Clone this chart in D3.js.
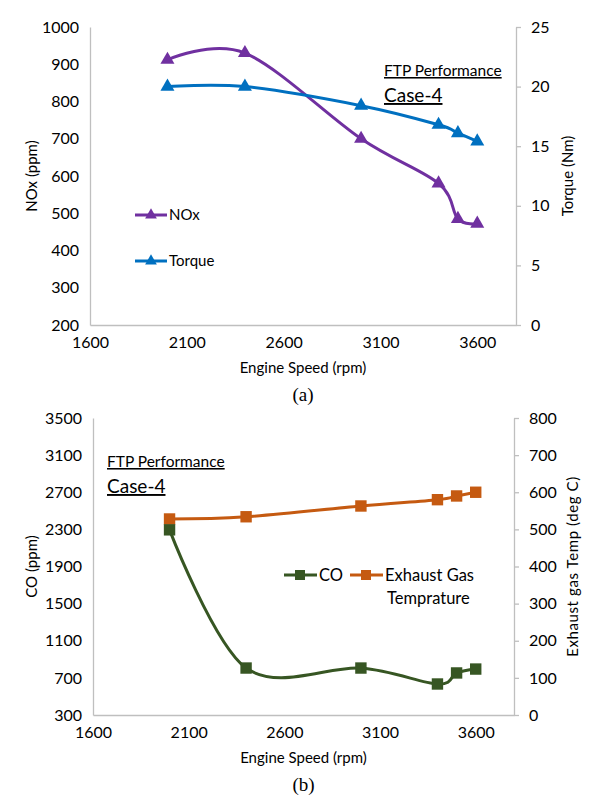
<!DOCTYPE html>
<html><head><meta charset="utf-8">
<script src="https://cdn.jsdelivr.net/npm/d3@7"></script>
<style>
body{margin:0;background:#fff;}
text{font-family:Lato,"Open Sans",sans-serif;fill:#000;}
</style></head>
<body><svg id="c" width="589" height="797"></svg>
<script>
const speeds = [2000, 2400, 3000, 3400, 3500, 3600];
const noxValues = [912, 930, 700, 580, 485, 472];
const torqueValues = [20.0, 20.0, 18.4, 16.8, 16.1, 15.4];
const coValues = [2295, 806, 806, 634, 753, 795];
const exhaustTempValues = [528, 534, 563, 580, 590, 600];
const xTicks = [1600, 2100, 2600, 3100, 3600];
const noxTicks = [200, 300, 400, 500, 600, 700, 800, 900, 1000];
const torqueTicks = [0, 5, 10, 15, 20, 25];
const coTicks = [300, 700, 1100, 1500, 1900, 2300, 2700, 3100, 3500];
const tempTicks = [0, 100, 200, 300, 400, 500, 600, 700, 800];

const svg = d3.select("#c");
const axisColor = "#bfbfbf";
const curve = d3.curveCardinal.tension(0);
const fmt = d3.format("d");

function panel(cfg){
  const g = svg.append("g");
  const x = d3.scaleLinear().domain([1600, 3800]).range([cfg.left, cfg.right]);
  const yL = d3.scaleLinear().domain(cfg.lDom).range([cfg.bottom, cfg.top]);
  const yR = d3.scaleLinear().domain(cfg.rDom).range([cfg.bottom, cfg.top]);

  const la = g.append("g").attr("transform", `translate(${cfg.left},0)`)
    .call(d3.axisLeft(yL).tickValues(cfg.lTicks).tickSize(0).tickPadding(11).tickFormat(fmt));
  la.select(".domain").attr("stroke", axisColor).attr("stroke-width",1.3);
  la.selectAll("text").style("font-size","16px").attr("font-family","Lato");
  const ra = g.append("g").attr("transform", `translate(${cfg.right},0)`)
    .call(d3.axisRight(yR).tickValues(cfg.rTicks).tickSizeInner(5).tickSizeOuter(0).tickPadding(10).tickFormat(fmt));
  ra.select(".domain").attr("stroke", axisColor).attr("stroke-width",1.3);
  ra.selectAll("line").attr("stroke", axisColor).attr("stroke-width",1.3);
  ra.selectAll("text").style("font-size","16px").attr("font-family","Lato");
  const ba = g.append("g").attr("transform", `translate(0,${cfg.bottom})`)
    .call(d3.axisBottom(x).tickValues(xTicks).tickSize(0).tickPadding(12).tickFormat(fmt));
  ba.select(".domain").attr("stroke", axisColor).attr("stroke-width",1.3);
  ba.selectAll("text").style("font-size","16px").attr("font-family","Lato");

  g.append("text").attr("x", (cfg.left+cfg.right)/2).attr("y", cfg.bottom+48)
    .attr("text-anchor","middle").style("font-size","15px").text("Engine Speed (rpm)");
  g.append("text").attr("transform",`translate(${cfg.ltx},${(cfg.top+cfg.bottom)/2}) rotate(-90)`)
    .attr("text-anchor","middle").style("font-size","15px").text(cfg.lTitle);
  g.append("text").attr("transform",`translate(${cfg.rtx},${(cfg.top+cfg.bottom)/2}) rotate(-90)`)
    .attr("text-anchor","middle").style("font-size","15px").style("letter-spacing",cfg.rls||"0px").text(cfg.rTitle);
  g.append("text").attr("x", (cfg.left+cfg.right)/2).attr("y", cfg.bottom+76)
    .attr("text-anchor","middle").style("font-family","'Liberation Serif',serif").style("font-size","19px").text(cfg.label);

  cfg.series.forEach(s=>{
    const y = s.axis==="L"?yL:yR;
    const data = speeds.map((v,i)=>[v, s.values[i]]);
    g.append("path").datum(data).attr("fill","none").attr("stroke",s.color).attr("stroke-width",3)
      .attr("d", d3.line().x(d=>x(d[0])).y(d=>y(d[1])).curve(curve));
    g.selectAll(null).data(data).enter().append("path")
      .attr("transform", d=>`translate(${x(d[0])},${y(d[1])})`)
      .attr("d", d3.symbol().type(s.symbol).size(s.size)())
      .attr("fill", s.color);
  });

  g.append("text").attr("x", cfg.annX).attr("y", cfg.annY).style("font-size","15.5px")
    .attr("text-decoration","underline").text("FTP Performance");
  g.append("text").attr("x", cfg.annX).attr("y", cfg.annY+26).style("font-size","19px")
    .attr("text-decoration","underline").text("Case-4");
  return {g, x};
}

const pa = panel({left:90, right:516, top:27, bottom:325,
  lDom:[200,1000], rDom:[0,25], lTicks:noxTicks, rTicks:torqueTicks,
  lTitle:"NOx (ppm)", rTitle:"Torque (Nm)", ltx:37, rtx:573, label:"(a)",
  annX:384, annY:76,
  series:[
    {values:noxValues, axis:"L", color:"#7030a0", symbol:d3.symbolTriangle, size:85},
    {values:torqueValues, axis:"R", color:"#0070c0", symbol:d3.symbolTriangle, size:85}
  ]});
[["NOx","#7030a0",215],["Torque","#0070c0",261]].forEach(([n,c,yy])=>{
  pa.g.append("line").attr("x1",135).attr("x2",167).attr("y1",yy).attr("y2",yy).attr("stroke",c).attr("stroke-width",3);
  pa.g.append("path").attr("transform",`translate(151,${yy})`).attr("d",d3.symbol().type(d3.symbolTriangle).size(60)()).attr("fill",c);
  pa.g.append("text").attr("x",169).attr("y",yy+5).style("font-size","15px").text(n);
});

const pb = panel({left:93, right:514, top:418, bottom:715,
  lDom:[300,3500], rDom:[0,800], lTicks:coTicks, rTicks:tempTicks,
  lTitle:"CO (ppm)", rTitle:"Exhaust gas Temp (deg C)", ltx:37, rtx:578, label:"(b)", rls:"0.6px",
  annX:107, annY:467,
  series:[
    {values:exhaustTempValues, axis:"R", color:"#c55a11", symbol:d3.symbolSquare, size:130},
    {values:coValues, axis:"L", color:"#375623", symbol:d3.symbolSquare, size:130}
  ]});
[["CO","#375623",284],["Exhaust Gas","#c55a11",350]].forEach(([n,c,xx])=>{
  pb.g.append("line").attr("x1",xx).attr("x2",xx+33).attr("y1",575).attr("y2",575).attr("stroke",c).attr("stroke-width",3);
  pb.g.append("path").attr("transform",`translate(${xx+16},575)`).attr("d",d3.symbol().type(d3.symbolSquare).size(100)()).attr("fill",c);
  pb.g.append("text").attr("x",xx+35).attr("y",581).style("font-size","16.5px").text(n);
});
pb.g.append("text").attr("x",387).attr("y",604).style("font-size","16.5px").text("Temprature");
</script></body></html>
